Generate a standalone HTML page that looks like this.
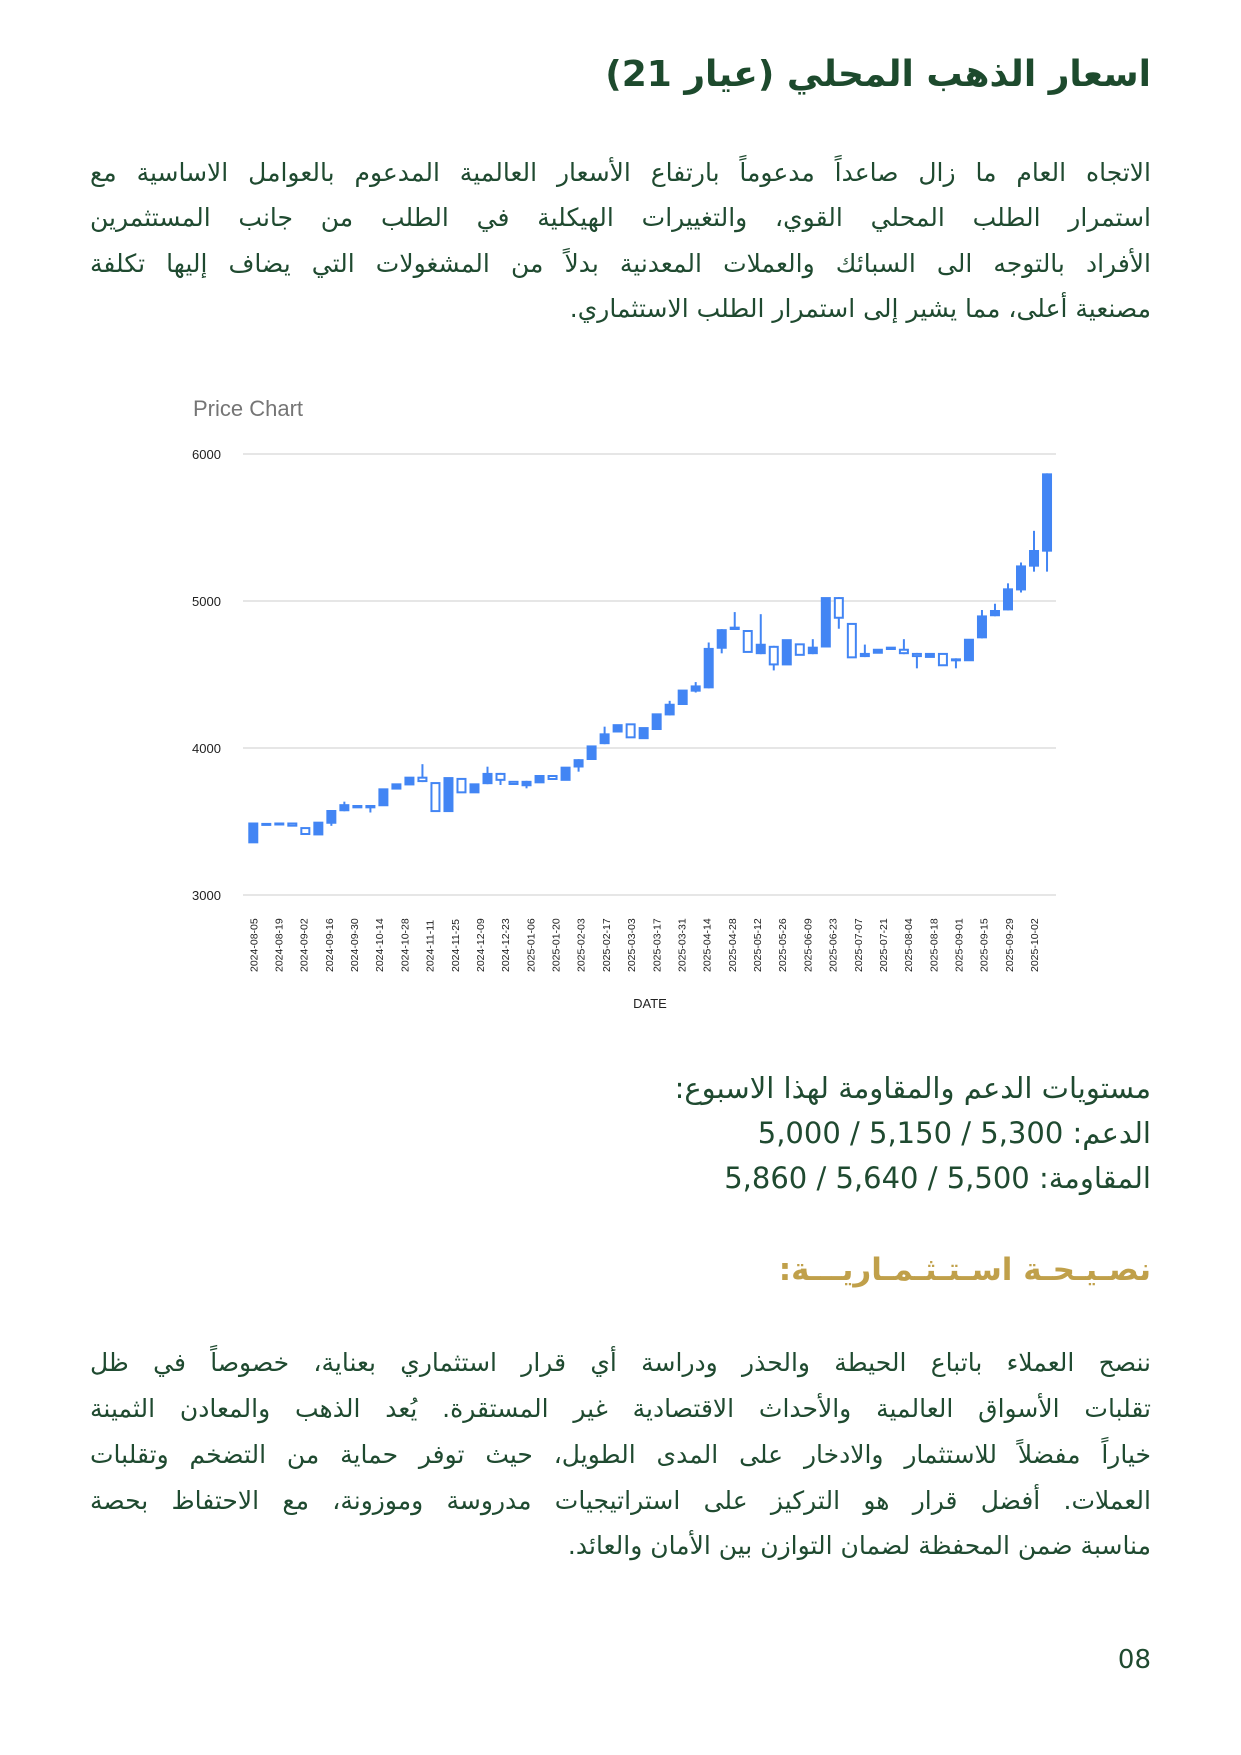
<!DOCTYPE html>
<html><head><meta charset="utf-8">
<style>
html,body{margin:0;padding:0;background:#fff;}
body{width:1241px;height:1755px;position:relative;overflow:hidden;font-family:"DejaVu Sans","Liberation Sans",sans-serif;color:#1f4a30;}
.r{position:absolute;direction:rtl;white-space:nowrap;}
.j{position:absolute;left:90px;width:1061px;direction:rtl;text-align:justify;text-align-last:justify;white-space:nowrap;font-size:25px;}
.jl{text-align-last:right;}
</style></head><body>
<div class="r" style="right:90px;top:54px;font-size:36px;font-weight:bold;color:#1d4a2d;">اسعار الذهب المحلي (عيار 21)</div>

<div class="j" style="top:158px;">الاتجاه العام ما زال صاعداً مدعوماً بارتفاع الأسعار العالمية المدعوم بالعوامل الاساسية مع</div>
<div class="j" style="top:203px;">استمرار الطلب المحلي القوي، والتغييرات الهيكلية في الطلب من جانب المستثمرين</div>
<div class="j" style="top:249px;">الأفراد بالتوجه الى السبائك والعملات المعدنية بدلاً من المشغولات التي يضاف إليها تكلفة</div>
<div class="j jl" style="top:294px;">مصنعية أعلى، مما يشير إلى استمرار الطلب الاستثماري.</div>

<svg id="ch" style="position:absolute;left:0;top:0" width="1241" height="1100"></svg>

<div class="r" style="right:90px;top:1071px;font-size:29px;">مستويات الدعم والمقاومة لهذا الاسبوع:</div>
<div class="r" style="right:90px;top:1116px;font-size:29px;">الدعم: 5,300 / 5,150 / 5,000</div>
<div class="r" style="right:90px;top:1161px;font-size:29px;">المقاومة: 5,500 / 5,640 / 5,860</div>

<div class="r" style="right:90px;top:1252px;font-size:31px;font-weight:bold;color:#c0a04a;">نصـيـحـة اسـتـثـمـاريـــة:</div>

<div class="j" style="top:1348px;">ننصح العملاء باتباع الحيطة والحذر ودراسة أي قرار استثماري بعناية، خصوصاً في ظل</div>
<div class="j" style="top:1394px;">تقلبات الأسواق العالمية والأحداث الاقتصادية غير المستقرة. يُعد الذهب والمعادن الثمينة</div>
<div class="j" style="top:1440px;">خياراً مفضلاً للاستثمار والادخار على المدى الطويل، حيث توفر حماية من التضخم وتقلبات</div>
<div class="j" style="top:1486px;">العملات. أفضل قرار هو التركيز على استراتيجيات مدروسة وموزونة، مع الاحتفاظ بحصة</div>
<div class="j jl" style="top:1531px;">مناسبة ضمن المحفظة لضمان التوازن بين الأمان والعائد.</div>

<div class="r" style="right:90px;top:1645px;font-size:26px;font-family:'DejaVu Sans',sans-serif;">08</div>

<script>
var s=document.getElementById('ch'),h='';
function X(o){return 180+o/1.733;} function Y(o){return 380+o/2.4;}
h+='<text x="193" y="416" font-family="Liberation Sans,sans-serif" font-size="22" fill="#757575">Price Chart</text>';
var labs=['6000','5000','4000','3000'];
for(var i=0;i<4;i++){var y=454+i*147;h+='<line x1="243" x2="1056" y1="'+y+'" y2="'+y+'" stroke="#ccc" stroke-width="1"/>';
h+='<text x="192" y="'+(y+5)+'" font-family="Liberation Sans,sans-serif" font-size="13" fill="#222">'+labs[i]+'</text>';}
var c=[[1062,1112,1],[1063,1068,1],[1062,1068,1],[1062,1072,0],[1073,1092,0],[1060,1093,1],[1032,1065,1,1032,1070],[1018,1035,1,1012,1035],[1020,1028,0],[1020,1028,1,1020,1038],[980,1023,1],[968,983,1],[952,973,1],[952,965,0,922,965],[965,1037,0],[953,1037,1],[955,992,0],[968,992,1],[943,970,1,928,970],[943,962,0,943,972],[962,972,0],[962,975,1,962,980],[948,968,1],[948,960,0],[928,962,1],[910,930,1,910,940],[877,912,1],[848,874,1,832,874],[826,846,1],[824,860,0],[833,862,1],[800,840,1],[777,805,1,770,805],[743,780,1],[733,748,1,725,750],[643,740,1,630,740],[598,645,1,598,656],[592,600,1,557,600],[600,655,0],[633,658,1,562,658],[638,685,0,638,697],[622,685,1],[632,662,0],[640,658,1,622,658],[521,642,1],[521,573,0,521,597],[583,668,0],[655,665,1,635,665],[645,657,1],[640,648,1],[645,658,0,622,658],[655,665,0,655,692],[655,667,1],[655,687,0],[668,674,1,668,692],[621,675,1],[565,620,1,552,620],[552,567,1,537,567],[500,553,1,488,553],[445,505,1,438,510],[408,448,1,362,460],[224,412,1,224,460]];
for(var i=0;i<c.length;i++){var d=c[i],xo=127+i*22.55,x=X(xo);
if(d.length>3)h+='<line x1="'+x+'" x2="'+x+'" y1="'+Y(d[3])+'" y2="'+Y(d[4])+'" stroke="#4285f4" stroke-width="2"/>';
var t=Y(d[0]),b=Y(d[1]);if(b-t<3)b=t+3;
if(d[2])h+='<rect x="'+(x-5)+'" y="'+t+'" width="10" height="'+(b-t)+'" fill="#4285f4"/>';
else h+='<rect x="'+(x-4)+'" y="'+(t+1)+'" width="8" height="'+(b-t-2)+'" fill="#fff" stroke="#4285f4" stroke-width="2"/>';}
var st=new Date(2024,7,5);
for(var k=0;k<32;k++){var dd=new Date(st.getTime()+k*14*864e5+36e5*3);var lbl=dd.getFullYear()+'-'+('0'+(dd.getMonth()+1)).slice(-2)+'-'+('0'+dd.getDate()).slice(-2);
if(k==31)lbl='2025-10-02';
var x=X(127+k*43.65)+4;h+='<text transform="translate('+x+',972) rotate(-90)" font-family="Liberation Sans,sans-serif" font-size="10.5" fill="#222">'+lbl+'</text>';}
h+='<text x="650" y="1008" text-anchor="middle" font-family="Liberation Sans,sans-serif" font-size="13" fill="#222">DATE</text>';
s.innerHTML=h;
</script>
</body></html>
